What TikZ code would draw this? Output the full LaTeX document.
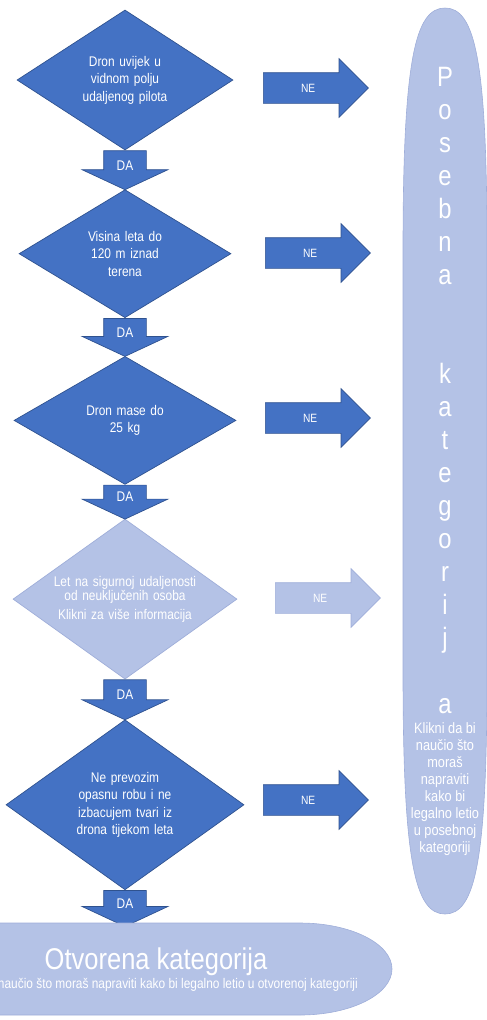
\documentclass[tikz,border=0pt]{standalone}
\usepackage{fontspec}
\setmainfont{Liberation Sans}[FakeStretch=0.85]
\usepackage{xcolor}
\usepackage{tikz}
\usetikzlibrary{shapes.geometric, shapes.arrows, positioning}

\definecolor{mainblue}{HTML}{4472C4}
\definecolor{mainedge}{HTML}{2F528F}
\definecolor{paleblue}{HTML}{B4C2E6}
\definecolor{paleedge}{HTML}{9FAED9}

\tikzstyle{decision} = [diamond, aspect=1.6, inner sep=0pt, text width=112pt, align=center, text=white, fill=mainblue, draw=mainedge, line width=0.7pt, font=\fontsize{14}{17.5}\selectfont]
\tikzstyle{faded} = [fill=paleblue, draw=paleedge]
\tikzstyle{yesarrow} = [single arrow, shape border rotate=270, single arrow head extend=21.5pt, single arrow tip angle=130, text width=42pt, inner sep=0pt, align=center, text=white, fill=mainblue, draw=mainedge, line width=0.7pt, font=\fontsize{14}{15}\selectfont]
\tikzstyle{noarrow} = [single arrow, minimum height=105pt, single arrow head extend=14pt, text height=9pt, text depth=0pt, inner xsep=0pt, inner ysep=10.5pt, text=white, fill=mainblue, draw=mainedge, line width=0.7pt, font=\fontsize{12}{14}\selectfont]
\tikzstyle{category} = [fill=paleblue, draw=paleedge, line width=0.6pt]
\tikzstyle{bigletter} = [text=white, inner sep=0pt, font=\fontsize{28}{33}\selectfont]
\tikzstyle{note} = [text=white, align=center, inner sep=0pt, font=\fontsize{15}{17}\selectfont]

\begin{document}
\begin{tikzpicture}[x=1pt, y=-1pt]
    \useasboundingbox (0,0) rectangle (487,1020);
    \clip (0,0) rectangle (487,1020);

    % Decisions
    \node[decision, minimum width=216pt, minimum height=140pt] (d1) at (125,80) {Dron uvijek u\\ vidnom polju\\ udaljenog pilota};
    \node[decision, minimum width=212pt, minimum height=128pt, below=39pt of d1] (d2) {Visina leta do\\ 120 m iznad\\ terena};
    \node[decision, minimum width=222pt, minimum height=128pt, below=38pt of d2] (d3) {Dron mase do\\ 25 kg};
    \node[decision, faded, minimum width=220pt, minimum height=160pt, text width=150pt, font=\fontsize{14}{13}\selectfont, below=34pt of d3] (d4) {Let na sigurnoj udaljenosti\\ od neuključenih osoba\\[5pt] Klikni za više informacija};
    \node[decision, minimum width=238pt, minimum height=170pt, below=40pt of d4] (d5) {Ne prevozim\\ opasnu robu i ne\\ izbacujem tvari iz\\ drona tijekom leta};

    % DA arrows
    \node[yesarrow, anchor=tail, minimum height=39pt] (da1) at (d1.south) {DA};
    \node[yesarrow, anchor=tail, minimum height=38pt] (da2) at (d2.south) {DA};
    \node[yesarrow, anchor=tail, minimum height=34pt] (da3) at (d3.south) {DA};
    \node[yesarrow, anchor=tail, minimum height=40pt] (da4) at (d4.south) {DA};
    \node[yesarrow, anchor=tail, minimum height=36pt] (da5) at (d5.south) {DA};

    % NE arrows
    \node[noarrow, anchor=tail] (ne1) at (263,88) {NE};
    \node[noarrow, anchor=tail] (ne2) at (265,253) {NE};
    \node[noarrow, anchor=tail] (ne3) at (265,418) {NE};
    \node[noarrow, faded, anchor=tail] (ne4) at (275,598) {NE};
    \node[noarrow, anchor=tail] (ne5) at (263,800) {NE};

    % Posebna kategorija
    \draw[category] (445,8) .. controls (415,8) and (403,60) .. (403,250) -- (403,672)
        .. controls (403,862) and (415,914) .. (445,914) .. controls (475,914) and (487,862) .. (487,672)
        -- (487,250) .. controls (487,60) and (475,8) .. (445,8) -- cycle;
    \foreach \ch/\yy [count=\i] in {P/86, o/119, s/152, e/185, b/218, n/251, a/284,
        k/383, a/416, t/449, e/482, g/515, o/548, r/581, i/614, j/647, a/713}
        \node[bigletter, anchor=base] (slovo\i) at (445,\yy) {\ch};
    \node[note, anchor=north] (posebnainfo) at (445,722) {Klikni da bi\\ naučio što\\ moraš\\ napraviti\\ kako bi\\ legalno letio\\ u posebnoj\\ kategoriji};

    % Otvorena kategorija
    \draw[category] (-30,923) -- (300,923) arc[start angle=90, end angle=-90, x radius=92pt, y radius=46pt] -- (-30,1015) -- cycle;
    \node[text=white, font=\fontsize{30}{33}\selectfont, anchor=base, inner sep=0pt] (otvorena) at (156,969) {Otvorena kategorija};
    \node[text=white, font=\fontsize{14}{16}\selectfont, anchor=base east, inner sep=0pt] (otvorenainfo) at (358,988) {naučio što moraš napraviti kako bi legalno letio u otvorenoj kategoriji};
\end{tikzpicture}
\end{document}
